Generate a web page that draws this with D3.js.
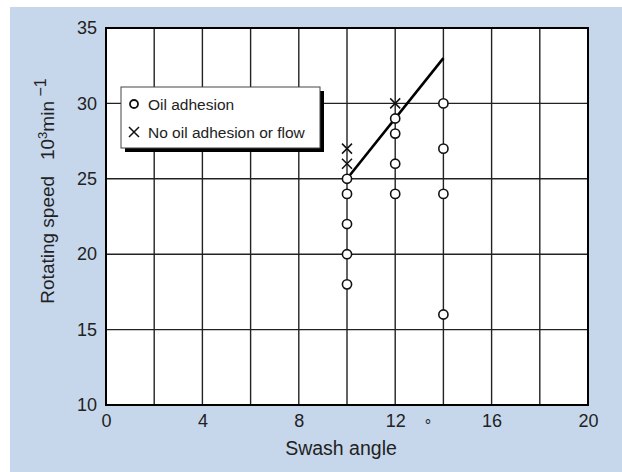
<!DOCTYPE html>
<html>
<head>
<meta charset="utf-8">
<script src="https://cdn.jsdelivr.net/npm/d3@7"></script>
<style>
  html, body { margin: 0; padding: 0; background: #ffffff; }
  svg { display: block; font-family: "Liberation Sans", Arial, Helvetica, sans-serif; }
</style>
</head>
<body>
<svg id="chart" width="622" height="472"></svg>
<script>
// Oil adhesion test: swash angle (deg) vs rotating speed (10^3 min^-1)
const oilAngle = [10, 10, 10, 10, 10, 12, 12, 12, 12, 14, 14, 14, 14];
const oilSpeed = [25, 24, 22, 20, 18, 29, 28, 26, 24, 30, 27, 24, 16];

const noOilAngle = [10, 10, 12];
const noOilSpeed = [27, 26, 30];

// boundary line between the two regimes
const boundaryAngle = [10, 14];
const boundarySpeed = [25, 33];

const xTicks = [0, 4, 8, 12, 16, 20];
const yTicks = [10, 15, 20, 25, 30, 35];
const xGrid = [2, 4, 6, 8, 10, 12, 14, 16, 18];
const yGrid = [15, 20, 25, 30];

const legendLabels = ["Oil adhesion", "No oil adhesion or flow"];

const svg = d3.select("#chart");

// panel background
svg.append("rect")
  .attr("x", 10).attr("y", 7)
  .attr("width", 612).attr("height", 465)
  .attr("fill", "#c6d7ec");

const x = d3.scaleLinear().domain([0, 20]).range([106, 588]);
const y = d3.scaleLinear().domain([10, 35]).range([405, 28]);

// plot area
svg.append("rect")
  .attr("x", x(0)).attr("y", y(35))
  .attr("width", x(20) - x(0)).attr("height", y(10) - y(35))
  .attr("fill", "#ffffff");

const grid = svg.append("g").attr("stroke", "#222").attr("stroke-width", 1.4);
grid.selectAll("line.v").data(xGrid).join("line")
  .attr("class", "v")
  .attr("x1", d => x(d)).attr("x2", d => x(d))
  .attr("y1", y(35)).attr("y2", y(10));
grid.selectAll("line.h").data(yGrid).join("line")
  .attr("class", "h")
  .attr("x1", x(0)).attr("x2", x(20))
  .attr("y1", d => y(d)).attr("y2", d => y(d));

// frame
svg.append("rect")
  .attr("x", x(0)).attr("y", y(35))
  .attr("width", x(20) - x(0)).attr("height", y(10) - y(35))
  .attr("fill", "none").attr("stroke", "#000").attr("stroke-width", 2);

// axes (labels only; frame and grid drawn above)
const xAxis = svg.append("g")
  .attr("transform", `translate(0,${y(10)})`)
  .call(d3.axisBottom(x).tickValues(xTicks).tickSize(0).tickPadding(9));
const yAxis = svg.append("g")
  .attr("transform", `translate(${x(0)},0)`)
  .call(d3.axisLeft(y).tickValues(yTicks).tickSize(0).tickPadding(9));
[xAxis, yAxis].forEach(a => {
  a.select(".domain").remove();
  a.selectAll("text")
    .attr("fill", "#222")
    .style("font-size", "18px")
    .style("font-family", "'Liberation Sans', Arial, sans-serif");
});

// boundary line
svg.append("line")
  .attr("x1", x(boundaryAngle[0])).attr("y1", y(boundarySpeed[0]))
  .attr("x2", x(boundaryAngle[1])).attr("y2", y(boundarySpeed[1]))
  .attr("stroke", "#000").attr("stroke-width", 2.6);

// cross markers
function cross(g, cx, cy, s) {
  g.append("path")
    .attr("d", `M${cx - s},${cy - s}L${cx + s},${cy + s}M${cx - s},${cy + s}L${cx + s},${cy - s}`)
    .attr("stroke", "#111").attr("stroke-width", 1.5).attr("fill", "none");
}
const crosses = svg.append("g");
noOilAngle.forEach((a, i) => cross(crosses, x(a), y(noOilSpeed[i]), 5));

// circle markers
svg.append("g").selectAll("circle")
  .data(oilAngle.map((a, i) => [a, oilSpeed[i]]))
  .join("circle")
  .attr("cx", d => x(d[0])).attr("cy", d => y(d[1]))
  .attr("r", 4.6)
  .attr("fill", "#fff").attr("stroke", "#111").attr("stroke-width", 1.6);

// legend
const lg = svg.append("g");
lg.append("rect")
  .attr("x", 125).attr("y", 91).attr("width", 199).attr("height", 61)
  .attr("fill", "#000");
lg.append("rect")
  .attr("x", 121).attr("y", 87).attr("width", 199).attr("height", 61)
  .attr("fill", "#fff").attr("stroke", "#444").attr("stroke-width", 1);
lg.append("circle")
  .attr("cx", 134).attr("cy", 104).attr("r", 4)
  .attr("fill", "#fff").attr("stroke", "#111").attr("stroke-width", 1.8);
cross(lg, 134, 132, 5);
lg.selectAll("text").data(legendLabels).join("text")
  .attr("x", 148).attr("y", (d, i) => 110 + i * 28)
  .attr("fill", "#222")
  .style("font-size", "15.5px")
  .text(d => d);

// axis titles
svg.append("text")
  .attr("x", 341).attr("y", 455)
  .attr("text-anchor", "middle")
  .attr("fill", "#222")
  .style("font-size", "19.5px")
  .text("Swash angle");
svg.append("text")
  .attr("x", 428).attr("y", 431)
  .attr("text-anchor", "middle")
  .attr("fill", "#222")
  .style("font-size", "16px")
  .text("°");

const yt = svg.append("text")
  .attr("transform", "translate(54,191) rotate(-90)")
  .attr("text-anchor", "middle")
  .attr("fill", "#222")
  .style("font-size", "19px");
yt.append("tspan").text("Rotating speed\u00a0\u00a0\u00a010");
yt.append("tspan").attr("dy", -7).style("font-size", "13px").text("3");
yt.append("tspan").attr("dy", 7).text("min");
yt.append("tspan").attr("dy", -8).style("font-size", "16px").text("\u00a0\u22121");
</script>
</body>
</html>
